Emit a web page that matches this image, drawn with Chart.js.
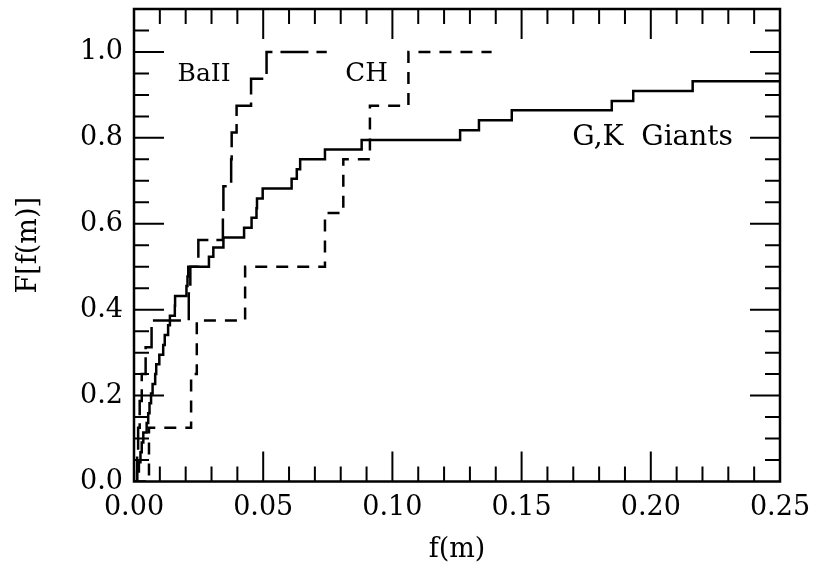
<!DOCTYPE html>
<html><head><meta charset="utf-8">
<script src="https://cdn.jsdelivr.net/npm/chart.js@4/dist/chart.umd.min.js"></script>
<style>html,body{margin:0;padding:0;background:#fff}#wrap{width:816px;height:569px;position:relative}</style>
</head><body><div id="wrap"><canvas id="c" width="816" height="569"></canvas></div>
<script>
// ---- data (cumulative distributions, step functions) ----
const baIIx = [0, 0.0012, 0.0016, 0.0022, 0.0030, 0.0045, 0.0068, 0.0212, 0.0218, 0.0249, 0.0344, 0.0346, 0.0376, 0.0378, 0.0397, 0.0453, 0.0513, 0.0746];
const baIIy = [0, 0.0625, 0.125, 0.1875, 0.25, 0.3125, 0.375, 0.4375, 0.5, 0.5625, 0.625, 0.6875, 0.75, 0.8125, 0.875, 0.9375, 1.0, 1.0];

const chX = [0, 0.0058, 0.0221, 0.0243, 0.0430, 0.0739, 0.0810, 0.0913, 0.1062, 0.1384];
const chY = [0, 0.125, 0.25, 0.375, 0.5, 0.625, 0.75, 0.875, 1.0, 1.0];

const gkX = [0, 0.0012, 0.0019, 0.0025, 0.0030, 0.0036, 0.0049, 0.0055, 0.0060, 0.0066, 0.0072, 0.0082, 0.0086, 0.0098, 0.0113, 0.0119, 0.0132, 0.0139, 0.0158, 0.0159, 0.0203, 0.0207, 0.0210, 0.0290, 0.0307, 0.0346, 0.0426, 0.0455, 0.0474, 0.0476, 0.0498, 0.0610, 0.0630, 0.0643, 0.0739, 0.0881, 0.1262, 0.1335, 0.1462, 0.1849, 0.1932, 0.2162, 0.2500];
const gkY = [0, 0.023, 0.045, 0.068, 0.091, 0.114, 0.136, 0.159, 0.182, 0.205, 0.227, 0.250, 0.273, 0.295, 0.318, 0.341, 0.364, 0.386, 0.409, 0.432, 0.455, 0.477, 0.500, 0.523, 0.545, 0.568, 0.591, 0.614, 0.636, 0.659, 0.682, 0.705, 0.727, 0.750, 0.773, 0.795, 0.818, 0.841, 0.864, 0.886, 0.909, 0.932, 0.932];

const xTickLabels = [0, 0.05, 0.10, 0.15, 0.20, 0.25];
const yTickLabels = [0, 0.2, 0.4, 0.6, 0.8, 1.0];
const seriesNames = ['BaII', 'CH', 'G,K  Giants'];

// ---- styling / layout ----
const FONT = "'DejaVu Serif', 'Liberation Serif', serif";
const labelSpots = [
  {text: seriesNames[0], x: 0.0271, y: 0.948, size: 25},
  {text: seriesNames[1], x: 0.0900, y: 0.949, size: 26},
  {text: seriesNames[2], x: 0.2007, y: 0.800, size: 28}
];

function pts(xs, ys){ return xs.map((v,i)=>({x:v, y:ys[i]})); }

const framePlugin = {
  id: 'frame',
  afterDatasetsDraw(chart){
    const {ctx, chartArea:a, scales:{x, y}} = chart;
    ctx.save();
    ctx.strokeStyle = '#000';
    ctx.lineWidth = 2.5;
    ctx.lineCap = 'butt';
    ctx.strokeRect(a.left, a.top, a.right - a.left, a.bottom - a.top);
    ctx.lineWidth = 2;
    ctx.beginPath();
    for (let i = 1; i < 25; i++) {
      const px = x.getPixelForValue(i * 0.01);
      const L = (i % 5 === 0) ? 30 : 15;
      ctx.moveTo(px, a.bottom); ctx.lineTo(px, a.bottom - L);
      ctx.moveTo(px, a.top); ctx.lineTo(px, a.top + L);
    }
    for (let i = 1; i < 22; i++) {
      const py = y.getPixelForValue(i * 0.05);
      const L = (i % 4 === 0) ? 30 : 15;
      ctx.moveTo(a.left, py); ctx.lineTo(a.left + L, py);
      ctx.moveTo(a.right, py); ctx.lineTo(a.right - L, py);
    }
    ctx.stroke();
    ctx.fillStyle = '#000';
    ctx.textAlign = 'center';
    ctx.textBaseline = 'middle';
    for (const s of labelSpots) {
      ctx.font = s.size + 'px ' + FONT;
      ctx.fillText(s.text, x.getPixelForValue(s.x), y.getPixelForValue(s.y));
    }
    ctx.restore();
  }
};

const common = {showLine: true, stepped: 'before', pointRadius: 0, borderColor: '#000', borderWidth: 2.5, fill: false};

new Chart(document.getElementById('c'), {
  type: 'scatter',
  data: {
    datasets: [
      Object.assign({label: seriesNames[0], data: pts(baIIx, baIIy), borderDash: [28, 8]}, common),
      Object.assign({label: seriesNames[1], data: pts(chX, chY), borderDash: [12, 9]}, common),
      Object.assign({label: seriesNames[2], data: pts(gkX, gkY)}, common)
    ]
  },
  options: {
    responsive: false,
    animation: false,
    devicePixelRatio: 1,
    layout: {padding: {top: 9, right: 36, left: 0, bottom: 0}},
    plugins: {legend: {display: false}, tooltip: {enabled: false}},
    scales: {
      x: {
        type: 'linear', min: 0, max: 0.25,
        grid: {display: false, drawTicks: false},
        border: {display: false},
        afterBuildTicks: s => { s.ticks = xTickLabels.map(v => ({value: v})); },
        afterFit: s => { s.height = 87.5; s.paddingLeft = 0; s.paddingRight = 0; },
        ticks: {color: '#000', padding: 10, maxRotation: 0, autoSkip: false,
          font: {family: FONT, size: 27},
          callback: v => Number(v).toFixed(2)},
        title: {display: true, text: 'f(m)', color: '#000', font: {family: FONT, size: 27}, padding: {top: 0, bottom: 3}}
      },
      y: {
        type: 'linear', min: 0, max: 1.1,
        grid: {display: false, drawTicks: false},
        border: {display: false},
        afterBuildTicks: s => { s.ticks = yTickLabels.map(v => ({value: v})); },
        afterFit: s => { s.width = 134; s.paddingTop = 0; s.paddingBottom = 0; },
        ticks: {color: '#000', padding: 11, autoSkip: false,
          font: {family: FONT, size: 27},
          callback: v => Number(v).toFixed(1)},
        title: {display: true, text: 'F[f(m)]', color: '#000', font: {family: FONT, size: 27}, padding: {top: 13, bottom: 0}}
      }
    }
  },
  plugins: [framePlugin]
});
</script>
</body></html>
